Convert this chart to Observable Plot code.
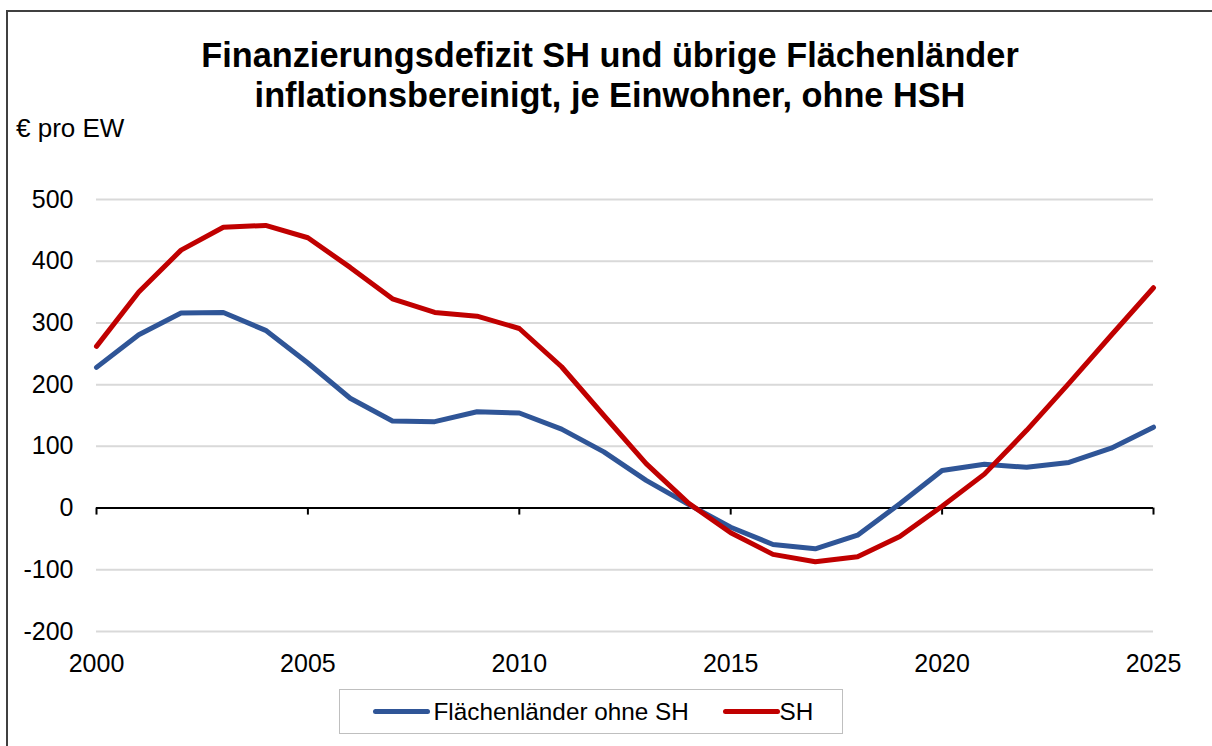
<!DOCTYPE html>
<html>
<head>
<meta charset="utf-8">
<script src="https://cdn.jsdelivr.net/npm/d3@7"></script>
<script src="https://cdn.jsdelivr.net/npm/@observablehq/plot@0.6"></script>
<style>
  html, body { margin: 0; padding: 0; background: #fff; }
  body { width: 1212px; height: 746px; position: relative; overflow: hidden; font-family: Arial, "Liberation Sans", sans-serif; }
  .abs { position: absolute; }
  #frame { left: 6px; top: 10px; width: 1230px; height: 800px; border: 2px solid #404040; box-sizing: border-box; pointer-events: none; }
  #title { left: 0; top: 35px; width: 1220px; text-align: center; font-weight: bold; font-size: 34.3px; line-height: 40px; color: #000; }
  #ylabel { left: 16px; top: 115px; font-size: 26px; line-height: 26px; color: #000; white-space: nowrap; }
  #legend { left: 339px; top: 689px; width: 504px; height: 45px; border: 1.5px solid #bfbfbf; box-sizing: border-box; background: #fff; }
  .sw { position: absolute; height: 5px; border-radius: 3px; }
  .lt { position: absolute; font-size: 24.3px; line-height: 25px; white-space: nowrap; color: #000; }
</style>
</head>
<body>
<div id="chart" class="abs" style="left:0;top:0;"></div>
<div id="title" class="abs">Finanzierungsdefizit SH und übrige Flächenländer<br>inflationsbereinigt, je Einwohner, ohne HSH</div>
<div id="ylabel" class="abs">€ pro EW</div>
<div id="legend" class="abs"></div>
<div id="frame" class="abs"></div>
<script>
// ---- data ----
const years = [2000,2001,2002,2003,2004,2005,2006,2007,2008,2009,2010,2011,2012,2013,2014,2015,2016,2017,2018,2019,2020,2021,2022,2023,2024,2025];
const flaechenlaender = [228,281,316,317,288,235,178,141,140,156,154,128,91,45,6,-31,-59,-66,-44,7,61,71,66,74,97,131];
const sh = [262,350,418,455,458,438,390,339,317,311,291,229,150,72,8,-40,-75,-87,-79,-46,3,55,126,202,280,357];
const seriesNames = ["Flächenländer ohne SH", "SH"];
const seriesColors = ["#2F5597", "#C00000"];
const yTicks = [-200,-100,0,100,200,300,400,500];
const xTicks = [2000,2005,2010,2015,2020,2025];

const rows = [];
years.forEach((y, i) => rows.push({year: y, value: flaechenlaender[i], series: seriesNames[0]}));
years.forEach((y, i) => rows.push({year: y, value: sh[i], series: seriesNames[1]}));

const chart = Plot.plot({
  width: 1212,
  height: 700,
  marginLeft: 96,
  marginRight: 59,
  marginTop: 199,
  marginBottom: 69,
  style: {background: "transparent", fontFamily: "Arial, 'Liberation Sans', sans-serif", color: "#000"},
  x: {domain: [2000, 2025]},
  y: {domain: [-200, 500]},
  color: {domain: seriesNames, range: seriesColors},
  marks: [
    Plot.ruleY(yTicks.filter(d => d !== 0), {stroke: "#d9d9d9", strokeWidth: 2}),
    Plot.axisY({ticks: yTicks, tickSize: 0, tickPadding: 23, fontSize: 25, label: null, tickFormat: d => String(d)}),
    Plot.axisX({ticks: xTicks, tickSize: 0, tickPadding: 23, fontSize: 25, label: null, tickFormat: d => String(d)}),
    Plot.ruleY([0], {stroke: "#000", strokeWidth: 2}),
    Plot.ruleX(xTicks, {x: d => d, y1: 0, y2: 0, insetBottom: -7, stroke: "#000", strokeWidth: 2}),
    Plot.line(rows, {x: "year", y: "value", z: "series", stroke: "series", strokeWidth: 5, strokeLinecap: "round", strokeLinejoin: "round", curve: "linear"})
  ]
});
document.getElementById("chart").appendChild(chart);

// legend
const legend = document.getElementById("legend");
const legendItems = [
  {name: seriesNames[0], color: seriesColors[0], sx: 373 - 339, tx: 434 - 339},
  {name: seriesNames[1], color: seriesColors[1], sx: 723 - 339, tx: 780 - 339}
];
legendItems.forEach(it => {
  const sw = document.createElement("div");
  sw.className = "sw";
  sw.style.left = (it.sx - 1.5) + "px";
  sw.style.top = (712 - 689 - 2.5 - 1.5) + "px";
  sw.style.width = "57px";
  sw.style.background = it.color;
  legend.appendChild(sw);
  const t = document.createElement("div");
  t.className = "lt";
  t.style.left = (it.tx - 1.5) + "px";
  t.style.top = (699 - 689 - 1.5) + "px";
  t.textContent = it.name;
  legend.appendChild(t);
});
</script>
</body>
</html>
